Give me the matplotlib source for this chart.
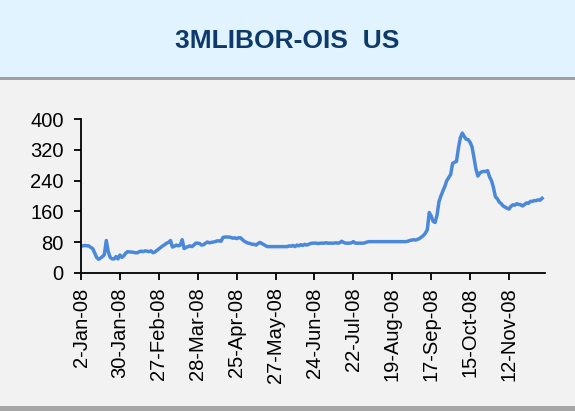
import numpy as np
import matplotlib
matplotlib.use("Agg")
import matplotlib.pyplot as plt
from matplotlib.patches import Rectangle

title = "3MLIBOR-OIS  US"

tick_labels = ["2-Jan-08", "30-Jan-08", "27-Feb-08", "28-Mar-08", "25-Apr-08", "27-May-08",
               "24-Jun-08", "22-Jul-08", "19-Aug-08", "17-Sep-08", "15-Oct-08", "12-Nov-08"]

# spread in bp, one value per trading day, 20 days per label block
jan = [70, 70, 71, 70, 70, 66, 63, 52, 40, 35, 38, 42, 47, 84, 55, 40, 36, 36, 42, 36]
feb = [46, 40, 44, 51, 55, 54, 54, 53, 52, 52, 55, 56, 55, 57, 56, 55, 57, 52, 54, 58]
mar = [62, 66, 70, 73, 77, 79, 84, 67, 69, 72, 70, 72, 86, 63, 66, 68, 70, 68, 72, 77]
apr = [77, 76, 72, 73, 77, 80, 78, 79, 80, 81, 83, 83, 82, 92, 93, 93, 93, 92, 90, 91]
may = [89, 91, 91, 86, 82, 79, 77, 76, 74, 74, 72, 76, 79, 76, 73, 70, 68, 68, 68, 68]
jun = [68, 68, 68, 68, 68, 68, 68, 70, 69, 71, 68, 72, 70, 73, 71, 74, 72, 74, 76, 77]
jul = [77, 77, 76, 77, 77, 77, 78, 77, 77, 77, 77, 78, 77, 78, 82, 79, 77, 77, 77, 78]
aug = [81, 77, 77, 77, 77, 77, 78, 80, 81, 81, 81, 81, 81, 81, 81, 81, 81, 81, 81, 81]
sep = [81, 81, 81, 81, 81, 81, 81, 81, 82, 84, 85, 86, 85, 87, 89, 93, 97, 103, 112, 157]
octo = [148, 134, 131, 150, 185, 200, 213, 225, 240, 248, 256, 285, 288, 290, 325, 352, 364, 355, 348, 347]
nov = [340, 328, 300, 270, 252, 260, 263, 264, 264, 266, 250, 240, 222, 198, 193, 184, 180, 174, 171, 168]
dec = [166, 173, 177, 176, 180, 178, 177, 174, 178, 182, 181, 186, 186, 188, 188, 190, 189, 194]

values = jan + feb + mar + apr + may + jun + jul + aug + sep + octo + nov + dec
x = np.arange(len(values))

W, H = 575, 411
fig = plt.figure(figsize=(W / 100, H / 100), dpi=100)
fig.patch.set_facecolor("#F2F2F2")

# header band with shadow, and bottom shadow
fig.patches.append(Rectangle((0, 1 - 80 / H), 1, 3 / H, transform=fig.transFigure,
                             facecolor="#A0A0A0", edgecolor="none", zorder=0))
fig.patches.append(Rectangle((0, 1 - 77 / H), 1, 77 / H, transform=fig.transFigure,
                             facecolor="#E0F3FE", edgecolor="none", zorder=1))
fig.patches.append(Rectangle((0, 0), 1, 5 / H, transform=fig.transFigure,
                             facecolor="#A6A6A6", edgecolor="none", zorder=0))
fig.text(0.5, 1 - 41 / H, title, ha="center", va="center", fontsize=19,
         fontweight="bold", color="#0E3A6B", family="Liberation Sans")

ax = fig.add_axes([81 / W, 1 - 272.7 / H, (545 - 81) / W, (272.7 - 119.3) / H])
ax.set_facecolor("#F2F2F2")
ax.plot(x, values, color="#4A88DA", lw=2.5, solid_joinstyle="round")

ax.set_xlim(0, 238.5)
ax.set_ylim(0, 400)
ax.set_yticks([0, 80, 160, 240, 320, 400])
ax.set_xticks(np.arange(0, len(values), 20))
ax.set_xticklabels(tick_labels, rotation=90, family="Liberation Sans", fontsize=14.5)
for lab in ax.get_yticklabels():
    lab.set_family("Liberation Sans")
    lab.set_fontsize(14.5)

for s in ["top", "right"]:
    ax.spines[s].set_visible(False)
for s in ["left", "bottom"]:
    ax.spines[s].set_linewidth(1.3)
ax.tick_params(axis="y", direction="out", length=5, width=1.3, pad=7.5)
ax.tick_params(axis="x", direction="out", length=5, width=1.3, pad=5.5)

fig.savefig("out.png", dpi=100, facecolor=fig.get_facecolor())
